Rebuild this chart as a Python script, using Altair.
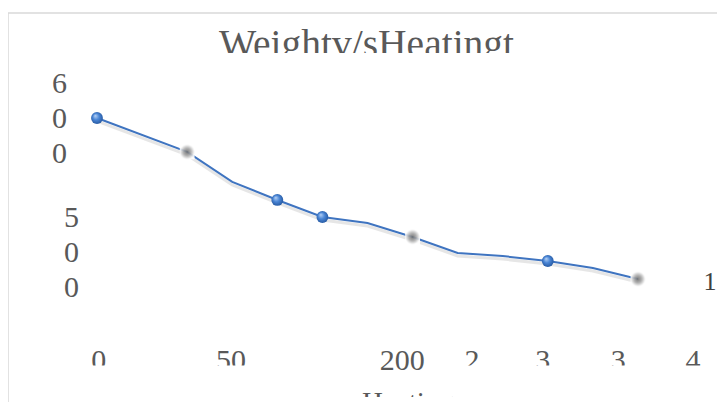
import altair as alt
import pandas as pd

# ---- data ----
heating_idx = [0, 2, 3, 4, 5, 6, 7, 8, 9, 10, 11, 12]
weight = [600.7, 575.5, 553.2, 539.8, 527.1, 522.7, 512.3, 500.4, 498.1, 494.4, 489.2, 481.0]
marker = ["blue", "gray", "none", "blue", "blue", "none", "gray", "none", "none", "blue", "none", "gray"]

x_tick_pos = [0.04, 2.97, 6.77, 8.32, 9.89, 11.56, 13.22]
x_tick_labels = ["0", "50", "200", "2", "3", "3", "4"]

y_tick_values = [600, 500]
y_tick_labels = ["600", "500"]

title_text = "Weightv/sHeatingt"
x_title = "Heating"
side_label = "1"

FONT = "Liberation Serif"
GRAY = "#595959"
W, H = 709, 394

df = pd.DataFrame({"h": heating_idx, "w": weight, "m": marker})
xs = alt.Scale(domain=[-1.974, 13.753], nice=False, zero=False)
ys = alt.Scale(domain=[389.6, 682.5], nice=False, zero=False)
one = alt.Data(values=[{"a": 1}])

layers = []

# y tick labels (characters stacked vertically)
for val, lab, xpx in zip(y_tick_values, y_tick_labels, [51.5, 63.5]):
    layers.append(
        alt.Chart(pd.DataFrame({"v": [val], "lab": [lab]}))
        .transform_calculate(t="split(datum.lab, '')")
        .mark_text(font=FONT, fontSize=30, color=GRAY, align="center",
                   baseline="middle", lineHeight=35, dy=-35)
        .encode(x=alt.value(xpx), y=alt.Y("v:Q", scale=ys, axis=None), text="t:N")
    )

# x tick labels
layers.append(
    alt.Chart(pd.DataFrame({"p": x_tick_pos, "lab": x_tick_labels}))
    .mark_text(font=FONT, fontSize=30, color=GRAY, align="center", baseline="alphabetic")
    .encode(x=alt.X("p:Q", scale=xs, axis=None), y=alt.value(362), text="lab:N")
)

# chart title
layers.append(
    alt.Chart(one).mark_text(font=FONT, fontSize=39.5, color=GRAY, align="center",
                             baseline="alphabetic")
    .encode(x=alt.value(358.5), y=alt.value(49), text=alt.value(title_text))
)
# x title
layers.append(
    alt.Chart(one).mark_text(font=FONT, fontSize=29, color=GRAY, align="center",
                             baseline="alphabetic")
    .encode(x=alt.value(400), y=alt.value(404), text=alt.value(x_title))
)
# stray right label
layers.append(
    alt.Chart(one).mark_text(font=FONT, fontSize=26, color="#404040", align="center",
                             baseline="middle")
    .encode(x=alt.value(702), y=alt.value(274), text=alt.value(side_label))
)

# white masks that cut the texts like in the reference
for x1, x2, y1, y2 in [(185, 530, 45, 64), (40, 372, 357.5, 384), (417, W, 357.5, 384),
                       (280, 540, 389, H)]:
    layers.append(
        alt.Chart(one).mark_rect(color="white")
        .encode(x=alt.value(x1), x2=alt.value(x2), y=alt.value(y1), y2=alt.value(y2))
    )

# frame border
layers.append(alt.Chart(one).mark_rule(color="#d9d9d9", strokeWidth=1.5)
              .encode(x=alt.value(0), x2=alt.value(W), y=alt.value(5)))
layers.append(alt.Chart(one).mark_rule(color="#d9d9d9", strokeWidth=1.5)
              .encode(x=alt.value(0), y=alt.value(5), y2=alt.value(H)))

base = alt.Chart(df).encode(
    x=alt.X("h:Q", scale=xs, axis=None),
    y=alt.Y("w:Q", scale=ys, axis=None),
)

# line shadow + line
layers.append(base.mark_line(color="#9a9a9a", strokeWidth=3, opacity=0.25, yOffset=3))
layers.append(base.mark_line(color="#3f74c0", strokeWidth=2))

gray_grad = alt.Gradient(
    gradient="radial",
    stops=[alt.GradientStop(color="#6e6e6e", offset=0),
           alt.GradientStop(color="#a8a8a8", offset=0.5),
           alt.GradientStop(color="#ffffff", offset=1)],
    x1=0.5, y1=0.5, r1=0, x2=0.5, y2=0.5, r2=0.5,
)
blue_grad = alt.Gradient(
    gradient="radial",
    stops=[alt.GradientStop(color="#b9d3f5", offset=0),
           alt.GradientStop(color="#4a86d6", offset=0.45),
           alt.GradientStop(color="#1e4f96", offset=1)],
    x1=0.35, y1=0.3, r1=0, x2=0.5, y2=0.5, r2=0.6,
)

layers.append(
    base.transform_filter("datum.m == 'gray'")
    .mark_point(shape="square", filled=True, size=220, color=gray_grad, opacity=0.9)
)
layers.append(
    base.transform_filter("datum.m == 'blue'")
    .mark_point(shape="circle", filled=True, size=140, color=blue_grad, opacity=1)
)

chart = (
    alt.layer(*layers)
    .properties(width=W, height=H, padding=0,
                autosize=alt.AutoSizeParams(type="none"), background="white")
    .configure_view(stroke=None)
)

chart.save("out.html", embed_options={"renderer": "svg", "actions": False})
